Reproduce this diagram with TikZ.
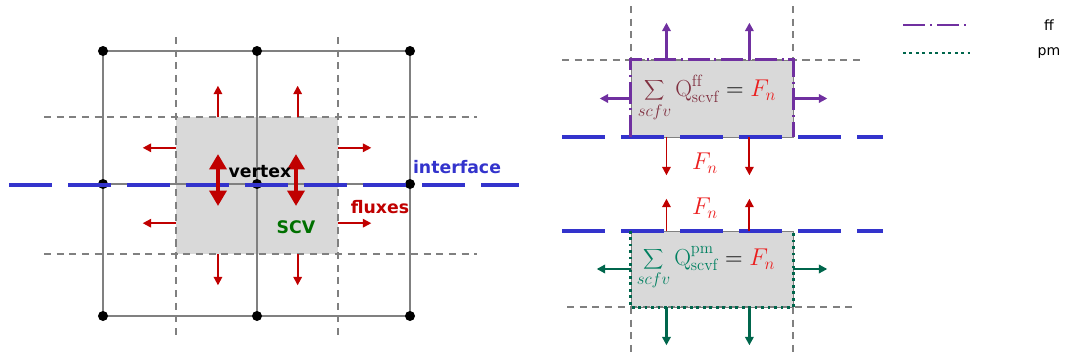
\documentclass[tikz,border=0pt]{standalone}
\usepackage{fontspec}
\setsansfont{DejaVu Sans}
\usetikzlibrary{arrows.meta, calc}
\definecolor{cGrid}{RGB}{128,128,128}
\definecolor{cBox}{RGB}{217,217,217}
\definecolor{cIface}{RGB}{51,51,204}
\definecolor{cFlux}{RGB}{192,0,0}
\definecolor{cScv}{RGB}{0,112,0}
\definecolor{cFF}{RGB}{112,48,160}
\definecolor{cPM}{RGB}{0,102,76}
\definecolor{cFFtxt}{RGB}{128,48,64}
\definecolor{cPMtxt}{RGB}{0,128,96}
\definecolor{cFn}{RGB}{235,30,30}

\begin{document}
\begin{tikzpicture}[x=0.025cm, y=-0.025cm,
      grid/.style={draw=cGrid, line width=1.3pt},
      aux/.style={draw=cGrid, line width=1pt, dash pattern=on 5pt off 4pt},
      iface/.style={draw=cIface, line width=3.5pt, dash pattern=on 1.075cm off 0.4cm},
      vtx/.style={circle, fill=black, inner sep=0pt, minimum size=0.25cm},
      cell/.style={fill=cBox, inner sep=0pt},
      flux/.style={-{Triangle[length=6pt,width=6pt]}, line width=1.3pt, draw=cFlux},
      dflux/.style={{Triangle[length=11pt,width=12pt]}-{Triangle[length=11pt,width=12pt]},
                    line width=3pt, draw=cFlux},
      ffline/.style={draw=cFF, line width=2pt,
                     dash pattern=on 0.55cm off 0.12cm on 0.05cm off 0.12cm},
      pmline/.style={draw=cPM, line width=2pt, dash pattern=on 2pt off 2.6pt},
      ffarr/.style={flux, draw=cFF, line width=2pt},
      pmarr/.style={flux, draw=cPM, line width=2pt},
      lbl/.style={font=\sffamily\bfseries\fontsize{12.3}{14}\selectfont, inner sep=0pt},
      eq/.style={font=\fontsize{16.5}{18}\selectfont, inner sep=0pt},
      leg/.style={font=\sffamily\fontsize{10}{12}\selectfont, inner sep=0pt}]
    \useasboundingbox (0,0) rectangle (1066,362);

    % left: vertex-centred grid
    \node[cell, minimum width=4.05cm, minimum height=3.425cm] (scv) at (257,185.5) {};
    \foreach \name/\xx/\yy in {v1/103/51, v2/257/51, v3/410/51,
                               v4/103/184, v5/257/184, v6/410/184,
                               v7/103/316, v8/257/316, v9/410/316}
      \coordinate (\name) at (\xx,\yy);
    \draw[grid] (v1) -- (v3) (v4) -- (v6) (v7) -- (v9)
                (v1) -- (v7) (v2) -- (v8) (v3) -- (v9);
    \draw[aux] (176,37) -- (176,335) (338,37) -- (338,335)
               (44,117) -- (477,117) (44,254) -- (477,254);
    \foreach \name in {v1,v2,v3,v4,v5,v6,v7,v8,v9}
      \node[vtx] at (\name) {};
    \draw[iface] (9,185) -- (519,185);

    \foreach \p in {0.26,0.75} {
      \draw[flux] ($(scv.north west)!\p!(scv.north east)$) -- ++(0,-31);
      \draw[flux] ($(scv.south west)!\p!(scv.south east)$) -- ++(0,31);
    }
    \foreach \p in {0.226,0.774} {
      \draw[flux] ($(scv.north west)!\p!(scv.south west)$) -- ++(-33,0);
      \draw[flux] ($(scv.north east)!\p!(scv.south east)$) -- ++(33,0);
    }
    \draw[dflux] (218,154) -- (218,206);
    \draw[dflux] (296,154) -- (296,206);

    \node[lbl] (vertex) at (260,172) {vertex};
    \node[lbl, text=cIface] (interface) at (457,167) {interface};
    \node[lbl, text=cFlux] (fluxes) at (380,207) {fluxes};
    \node[lbl, text=cScv] (scvlbl) at (296,227) {SCV};

    % right: free-flow box
    \draw[aux] (631,6) -- (631,60) (793,6) -- (793,60) (562,60) -- (862,60);
    \node[cell, draw=cGrid, thin, minimum width=4.05cm, minimum height=1.925cm] (ffbox) at (712,98.5) {};
    \draw[iface] (562,137) -- (883,137);
    \draw[ffline] (ffbox.south west) -- (ffbox.north west) -- (ffbox.north east) -- (ffbox.south east);
    \node[eq, text=cFFtxt] (ffeq) at (707,98)
      {$\displaystyle\sum_{scfv}\mathrm{Q}^{\mathrm{ff}}_{\mathrm{scvf}}\mathrel{\color{black}=}{\color{cFn}F_n}$};
    \foreach \p in {0.22,0.73} {
      \draw[ffarr] ($(ffbox.north west)!\p!(ffbox.north east)$) -- ++(0,-37);
      \draw[flux] ($(ffbox.south west)!\p!(ffbox.south east)$) -- ++(0,38);
    }
    \draw[ffarr] (ffbox.west) -- ++(-31,0);
    \draw[ffarr] (ffbox.east) -- ++(34,0);
    \node[eq, text=cFn] (fnff) at (705,163) {$F_n$};

    % right: porous-medium box
    \node[cell, draw=cGrid, thin, minimum width=4.05cm, minimum height=1.9cm] (pmbox) at (712,269) {};
    \draw[iface] (562,231) -- (883,231);
    \draw[aux] (567,307) -- (855,307) (631,307) -- (631,357) (793,307) -- (793,357);
    \draw[pmline] (pmbox.north west) -- (pmbox.south west) -- (pmbox.south east) -- (pmbox.north east);
    \node[eq, text=cPMtxt] (pmeq) at (706,268)
      {$\displaystyle\sum_{scfv}\mathrm{Q}^{\mathrm{pm}}_{\mathrm{scvf}}\mathrel{\color{black}=}{\color{cFn}F_n}$};
    \foreach \p in {0.22,0.73} {
      \draw[flux] ($(pmbox.north west)!\p!(pmbox.north east)$) -- ++(0,-32);
      \draw[pmarr] ($(pmbox.south west)!\p!(pmbox.south east)$) -- ++(0,38);
    }
    \draw[pmarr] (pmbox.west) -- ++(-34,0);
    \draw[pmarr] (pmbox.east) -- ++(34,0);
    \node[eq, text=cFn] (fnpm) at (705,208) {$F_n$};

    % legend
    \coordinate (ffa) at (903,25);
    \coordinate (ffb) at (968,25);
    \coordinate (pma) at (903,53);
    \coordinate (pmb) at (970,53);
    \draw[ffline, dash pattern=on 0.55cm off 0.12cm on 0.06cm off 0.12cm] (ffa) -- (ffb);
    \draw[pmline] (pma) -- (pmb);
    \node[leg] (ffleg) at (1049,25) {ff};
    \node[leg] (pmleg) at (1049,53) {pm};
  \end{tikzpicture}
\end{document}
